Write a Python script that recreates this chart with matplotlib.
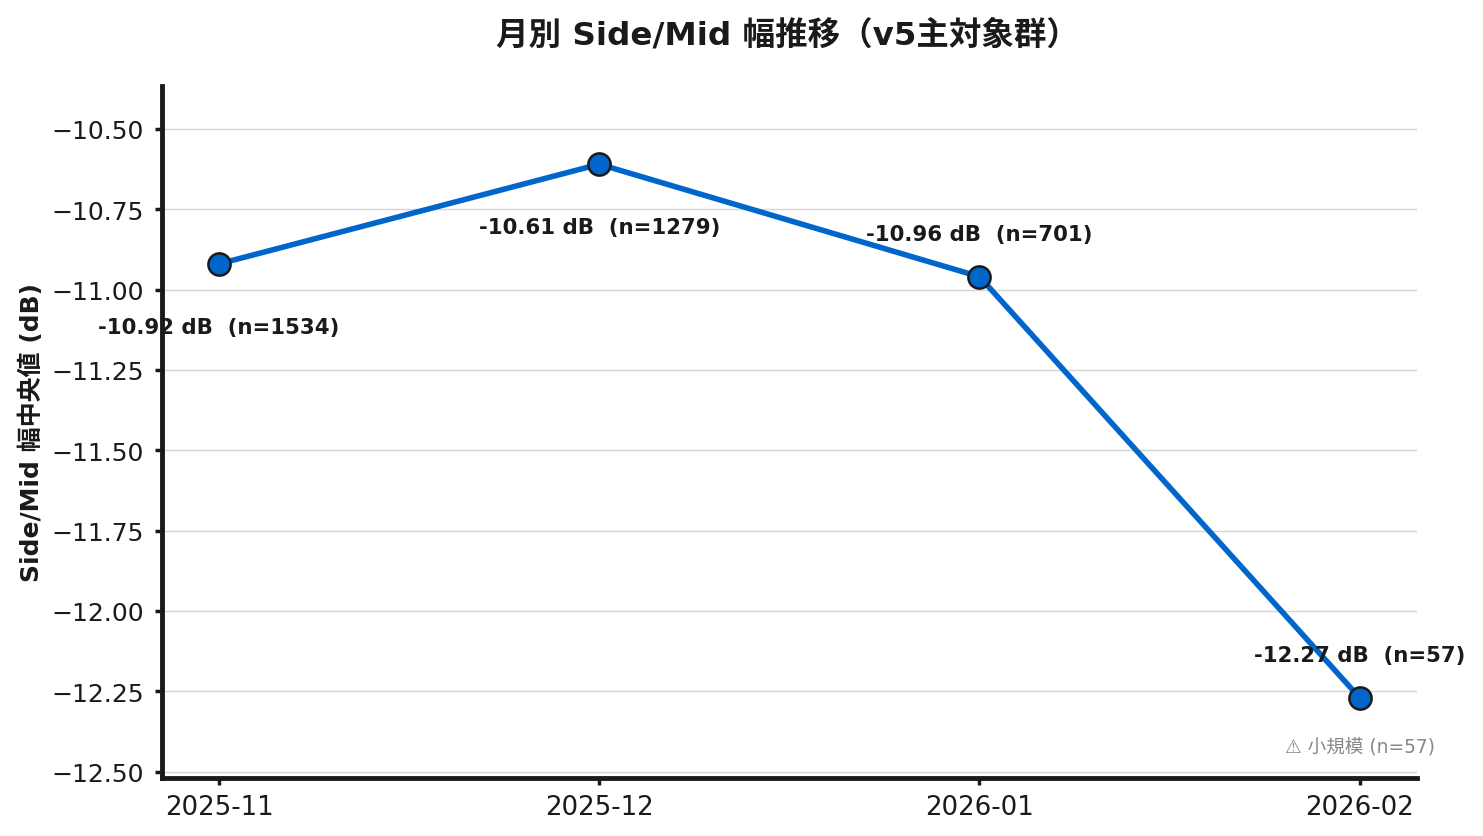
import matplotlib
matplotlib.use("Agg")
import matplotlib.pyplot as plt

months = ["2025-11", "2025-12", "2026-01", "2026-02"]
medians = [-10.92, -10.61, -10.96, -12.27]
counts = [1534, 1279, 701, 57]
# label offset from the point, in points (below for the first two)
label_offsets = [-45.5, -45.5, 30.5, 30.5]
yticks = [-10.5, -10.75, -11, -11.25, -11.5, -11.75, -12, -12.25, -12.5]
ytick_labels = ["−10.50", "−10.75", "−11.00", "−11.25", "−11.50", "−11.75", "−12.00", "−12.25", "−12.50"]

INK = "#1a1a1a"
plt.rcParams["font.family"] = ["DejaVu Sans", "Noto Sans CJK JP"]

fig, ax = plt.subplots(figsize=(14.83, 8.37), dpi=100)
fig.subplots_adjust(left=0.1093, right=0.9553, top=0.8963, bottom=0.0692)

xs = list(range(len(months)))
ax.plot(xs, medians, color="#0066cc", lw=4, marker="o", ms=16, mfc="#0066cc",
        mec=INK, mew=1.8, zorder=3)

for x, m, n, off in zip(xs, medians, counts, label_offsets):
    ax.annotate(f"{m:.2f} dB  (n={n})", (x, m), xytext=(0, off), textcoords="offset points",
                ha="center", va="center", fontsize=15.3, fontweight="bold", color=INK,
                annotation_clip=False, zorder=4)

ax.annotate("⚠ 小規模 (n=57)", (3, medians[3]), xytext=(0, -35), textcoords="offset points",
            ha="center", va="center", fontsize=13.4, color="#888888", annotation_clip=False)

ax.set_xlim(-0.15, 3.15)
ax.set_ylim(-12.52, -10.366)
ax.set_xticks(xs)
ax.set_xticklabels(months)
ax.set_yticks(yticks)
ax.set_yticklabels(ytick_labels)
ax.tick_params(axis="both", width=2.5, length=5, color=INK, labelcolor=INK)
ax.tick_params(axis="y", pad=8, labelsize=18)
ax.tick_params(axis="x", pad=6.5, labelsize=18.7)
ax.grid(axis="y", color="#d4d4d4", lw=1)
ax.set_axisbelow(True)

for side in ["top", "right"]:
    ax.spines[side].set_visible(False)
for side in ["left", "bottom"]:
    ax.spines[side].set_linewidth(3.5)
    ax.spines[side].set_color(INK)

ax.set_ylabel("Side/Mid 幅中央値 (dB)", fontsize=18, fontweight="bold", color=INK)
ax.yaxis.set_label_coords(-0.094, 0.5)
fig.suptitle("月別 Side/Mid 幅推移（v5主対象群）", fontsize=23.4, fontweight="bold", color=INK,
             x=0.531, y=0.9577, va="center")

fig.savefig("out.png", dpi=100)
